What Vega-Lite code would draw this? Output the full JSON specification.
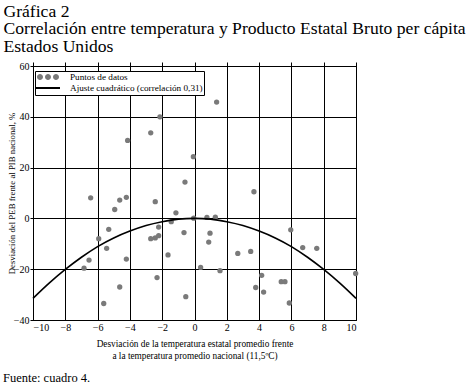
{
  "$schema": "https://vega.github.io/schema/vega-lite/v6.json",
  "width": 323,
  "height": 254,
  "autosize": "none",
  "padding": {"left": 33, "top": 66, "right": 118, "bottom": 65},
  "background": "white",
  "title": {
    "text": "Fuente: cuadro 4.",
    "orient": "bottom",
    "anchor": "start",
    "frame": "group",
    "dx": -30,
    "offset": 12,
    "font": "Liberation Serif",
    "fontSize": 12.5,
    "fontWeight": "normal",
    "color": "black"
  },
  "config": {
    "view": {"stroke": "black", "strokeWidth": 1},
    "axis": {
      "labelFont": "Liberation Serif",
      "labelFontSize": 10,
      "labelColor": "black",
      "titleFont": "Liberation Serif",
      "titleFontSize": 9.3,
      "titleFontWeight": "normal",
      "titleColor": "black",
      "domainColor": "black",
      "tickColor": "black",
      "gridColor": "black",
      "gridOpacity": 1,
      "gridWidth": 1
    },
    "legend": {
      "orient": "none",
      "legendX": 2,
      "legendY": 5,
      "fillColor": "white",
      "strokeColor": "black",
      "padding": 1,
      "rowPadding": -1,
      "labelFont": "Liberation Serif",
      "labelFontSize": 9.2,
      "labelColor": "black",
      "symbolSize": 100,
      "symbolOffset": 7,
      "labelOffset": 17,
      "symbolStrokeWidth": 0,
      "symbolOpacity": 1
    }
  },
  "datasets": {
    "puntos": [
      {"x": 1.37, "y": 45.8}, {"x": -2.14, "y": 40.0}, {"x": -2.71, "y": 33.7},
      {"x": -4.14, "y": 30.7}, {"x": -0.07, "y": 24.3}, {"x": -0.59, "y": 14.3},
      {"x": 3.68, "y": 10.5}, {"x": -6.43, "y": 8.1}, {"x": -4.63, "y": 7.2},
      {"x": -4.22, "y": 8.3}, {"x": -4.94, "y": 3.5}, {"x": -2.43, "y": 6.6},
      {"x": -1.15, "y": 2.2}, {"x": -0.05, "y": 0.1}, {"x": -1.44, "y": -1.3},
      {"x": -5.31, "y": -4.3}, {"x": -2.22, "y": -3.4}, {"x": -0.65, "y": -5.6},
      {"x": -5.93, "y": -8.0}, {"x": -2.71, "y": -8.0}, {"x": -2.43, "y": -7.7},
      {"x": -2.22, "y": -6.8}, {"x": -5.44, "y": -11.8}, {"x": -1.64, "y": -14.4},
      {"x": -6.53, "y": -16.4}, {"x": -4.22, "y": -16.0}, {"x": -6.84, "y": -19.6},
      {"x": -2.32, "y": -23.3}, {"x": -4.63, "y": -27.0}, {"x": -0.54, "y": -30.8},
      {"x": -5.62, "y": -33.5}, {"x": 0.77, "y": 0.4}, {"x": 1.29, "y": 0.5},
      {"x": 0.96, "y": -5.8}, {"x": 0.88, "y": -9.3}, {"x": 5.96, "y": -4.5},
      {"x": 2.68, "y": -13.8}, {"x": 3.48, "y": -13.0}, {"x": 6.7, "y": -11.5},
      {"x": 7.57, "y": -11.8}, {"x": 0.38, "y": -19.3}, {"x": 1.58, "y": -20.6},
      {"x": 9.98, "y": -21.7}, {"x": 4.16, "y": -22.4}, {"x": 5.37, "y": -24.9},
      {"x": 5.6, "y": -24.9}, {"x": 3.79, "y": -27.2}, {"x": 4.28, "y": -29.0},
      {"x": 5.87, "y": -33.3}
    ],
    "ajuste": [
      {"x": -10, "y": -31.5}, {"x": -9, "y": -25.5}, {"x": -8, "y": -20.1},
      {"x": -7, "y": -15.3}, {"x": -6, "y": -11.1}, {"x": -5, "y": -7.7},
      {"x": -4, "y": -5.0}, {"x": -3, "y": -2.8}, {"x": -2, "y": -1.3},
      {"x": -1, "y": -0.3}, {"x": 0, "y": 0.0}, {"x": 1, "y": -0.3},
      {"x": 2, "y": -1.3}, {"x": 3, "y": -2.8}, {"x": 4, "y": -5.0},
      {"x": 5, "y": -7.7}, {"x": 6, "y": -11.1}, {"x": 7, "y": -15.3},
      {"x": 8, "y": -20.1}, {"x": 9, "y": -25.5}, {"x": 10, "y": -31.5}
    ],
    "leyenda": [
      {"serie": "Puntos de datos"},
      {"serie": "Ajuste cuadrático (correlación 0,31)"}
    ]
  },
  "layer": [
    {
      "data": {"name": "puntos"},
      "mark": {"type": "point", "filled": true, "size": 28, "opacity": 1, "color": "#7a7a7a"},
      "encoding": {
        "x": {
          "field": "x",
          "type": "quantitative",
          "scale": {"domain": [-10, 10], "nice": false},
          "axis": {
            "orient": "bottom",
            "values": [-10, -8, -6, -4, -2, 0, 2, 4, 6, 8, 10],
            "grid": true,
            "ticks": false,
            "labelPadding": 2,
            "title": ["Desviación de la temperatura estatal promedio frente", "a la temperatura promedio nacional  (11,5ºC)"],
            "titleLineHeight": 12,
            "titlePadding": 7
          }
        },
        "y": {
          "field": "y",
          "type": "quantitative",
          "scale": {"domain": [-40, 60], "nice": false},
          "axis": {
            "values": [-40, -20, 0, 20, 40, 60],
            "grid": true,
            "tickSize": 3,
            "labelPadding": 1,
            "title": "Desviación del PEB frente al PIB nacional, %",
            "titleFontSize": 8.8,
            "titlePadding": -3
          }
        }
      }
    },
    {
      "data": {"name": "ajuste"},
      "mark": {"type": "line", "strokeWidth": 1.6, "interpolate": "monotone", "color": "black"},
      "encoding": {
        "x": {
          "field": "x",
          "type": "quantitative",
          "axis": {
            "orient": "top",
            "values": [-10, -8, -6, -4, -2, 0, 2, 4, 6, 8, 10],
            "grid": false,
            "domain": false,
            "labels": false,
            "ticks": true,
            "tickSize": 4,
            "title": ["Gráfica 2", "Correlación entre temperatura y Producto Estatal Bruto per cápita", "Estados Unidos"],
            "titleFont": "Liberation Serif",
            "titleFontSize": 17.6,
            "titleLineHeight": 17.5,
            "titleAlign": "left",
            "titleAnchor": "start",
            "titleBaseline": "alphabetic",
            "titleAngle": 0,
            "titleX": -30,
            "titleY": -50
          }
        },
        "y": {"field": "y", "type": "quantitative"}
      }
    },
    {
      "data": {"name": "leyenda"},
      "mark": {"type": "point", "filled": true, "opacity": 0},
      "encoding": {
        "color": {
          "field": "serie",
          "type": "nominal",
          "scale": {
            "domain": ["Puntos de datos", "Ajuste cuadrático (correlación 0,31)"],
            "range": ["#7a7a7a", "#000000"]
          },
          "legend": {"title": null}
        },
        "shape": {
          "field": "serie",
          "type": "nominal",
          "scale": {
            "domain": ["Puntos de datos", "Ajuste cuadrático (correlación 0,31)"],
            "range": [
              "M-2.2,0a0.6,0.6 0 1,0 1.2,0a0.6,0.6 0 1,0 -1.2,0M-0.6,0a0.6,0.6 0 1,0 1.2,0a0.6,0.6 0 1,0 -1.2,0M1,0a0.6,0.6 0 1,0 1.2,0a0.6,0.6 0 1,0 -1.2,0Z",
              "M-2.4,-0.2H2.4V0.2H-2.4Z"
            ]
          },
          "legend": {"title": null}
        }
      }
    }
  ],
  "resolve": {"axis": {"x": "independent"}}
}
